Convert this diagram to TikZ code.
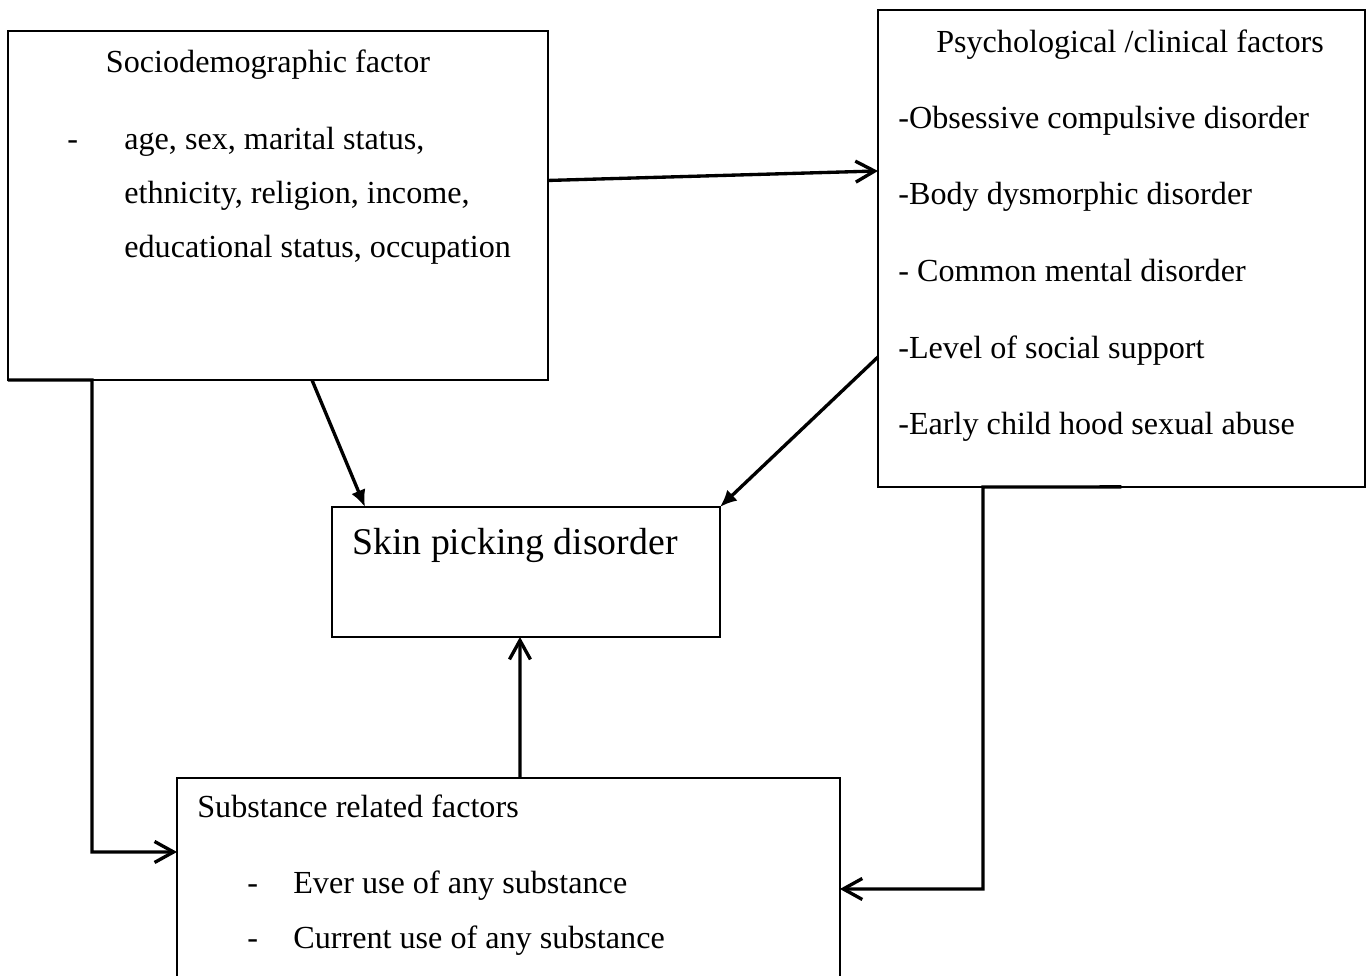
\documentclass[tikz,border=0pt]{standalone}
\usepackage{fontspec}
\setmainfont{Liberation Serif}
\usepackage{tikz}
\usetikzlibrary{arrows.meta}

\begin{document}
\begin{tikzpicture}[x=0.02cm, y=-0.02cm,
    box/.style={draw, line width=0.75pt, anchor=north west, inner sep=0pt, outer sep=0pt},
    txt/.style={anchor=base west, inner sep=0pt, font=\fontsize{18.3}{22}\selectfont},
    link/.style={line width=1.9pt},
    open/.style={link, -{Straight Barb[length=0.38cm, width=0.42cm, line width=1.9pt]}},
    solid/.style={link, -{Latex[length=0.34cm, width=0.3cm]}}]
      \useasboundingbox (0,0) rectangle (1370,976);
      \clip (0,0) rectangle (1370,976);
      % Boxes
      \node[box, minimum width=10.8cm, minimum height=6.98cm] (socio) at (8,31) {};
      \node[box, minimum width=9.74cm, minimum height=9.54cm] (psych) at (878,10) {};
      \node[box, minimum width=7.76cm, minimum height=2.6cm] (skin) at (332,507) {};
      \node[box, minimum width=13.26cm, minimum height=4.44cm] (subst) at (177,778) {};
      % Sociodemographic texts
      \node[txt, anchor=base] (sociot) at (268,73) {Sociodemographic factor};
      \node[txt] (sociod) at (67,150) {-};
      \node[txt] (socio1) at (124,150) {age, sex, marital status,};
      \node[txt] (socio2) at (124,204) {ethnicity, religion, income,};
      \node[txt] (socio3) at (124,258) {educational status, occupation};
      % Psychological texts
      \node[txt, anchor=base] (psycht) at (1130,53) {Psychological /clinical factors};
      \node[txt] (psych1) at (898,129) {-Obsessive compulsive disorder};
      \node[txt] (psych2) at (898,205) {-Body dysmorphic disorder};
      \node[txt] (psych3) at (898,282) {- Common mental disorder};
      \node[txt] (psych4) at (898,359) {-Level of social support};
      \node[txt] (psych5) at (898,435) {-Early child hood sexual abuse};
      % Outcome
      \node[txt, font=\fontsize{21.5}{26}\selectfont] (skint) at (352,555) {Skin picking disorder};
      % Substance texts
      \node[txt] (substt) at (197,817) {Substance related factors};
      \node[txt] (substd1) at (247,893) {-};
      \node[txt] (subst1) at (293,893) {Ever use of any substance};
      \node[txt] (substd2) at (247,948) {-};
      \node[txt] (subst2) at (293,948) {Current use of any substance};
      % Connectors
      \coordinate (sbend) at (92,380);
      \coordinate (pbend) at (983,487);
      \draw[open] ([yshift=0.5cm]socio.east) -- ([yshift=1.55cm]psych.west);
      \draw[solid] ([xshift=0.68cm]socio.south) -- ([xshift=0.66cm]skin.north west);
      \draw[solid] ([yshift=-2.17cm]psych.west) -- (skin.north east);
      \draw[open] ([xshift=0.23cm]subst.north) -- ([xshift=-0.12cm]skin.south);
      \draw[open] (socio.south west) -- (sbend) |- ([yshift=0.74cm]subst.west);
      \draw[open] (psych.south) -- (pbend) |- (subst.east);
\end{tikzpicture}
\end{document}
